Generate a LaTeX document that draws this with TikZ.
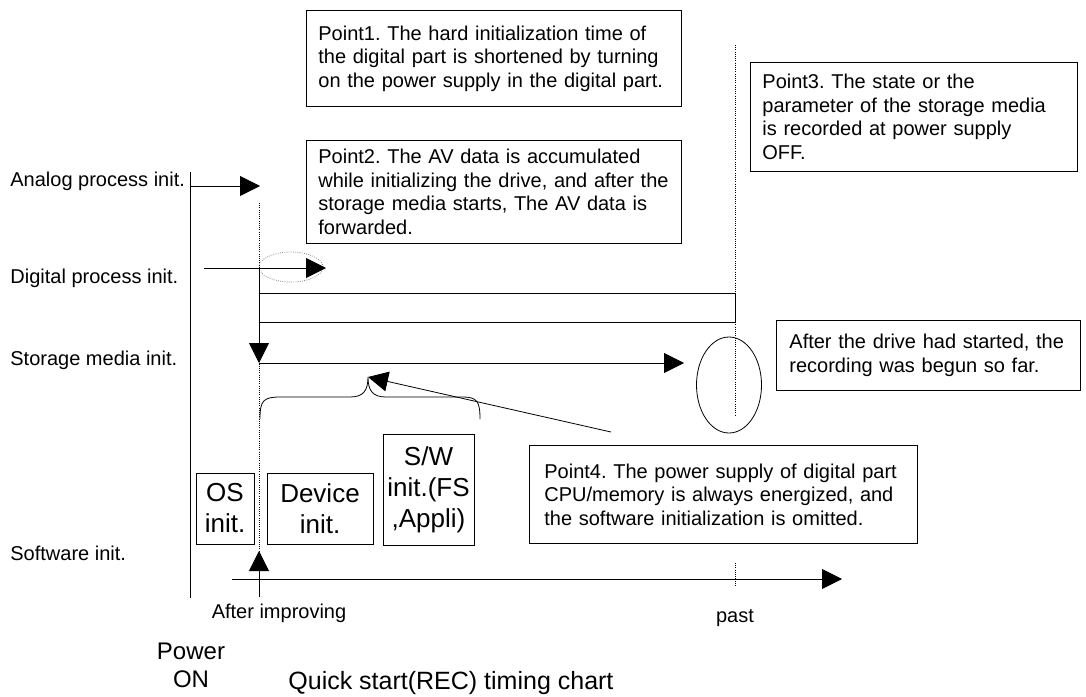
\documentclass[tikz,border=0pt]{standalone}
\usepackage{fontspec}
\setmainfont{Liberation Sans}
\usetikzlibrary{arrows.meta,shapes.geometric}
\frenchspacing
\begin{document}
\begin{tikzpicture}[x=1pt,y=-1pt,line width=0.8pt,
 lb/.style={anchor=base west,inner sep=0pt,font=\fontsize{20}{24}\selectfont},
 txt/.style={anchor=base,inner sep=0pt,font=\fontsize{20}{24}\selectfont},
 nt/.style={draw,anchor=north west,align=left,inner xsep=12pt,inner ysep=0pt,font=\fontsize{20}{23.5}\selectfont},
 sw/.style={draw,align=center,inner sep=0pt,minimum height=71pt,font=\fontsize{26}{31}\selectfont},
 ar/.style={-{Triangle[length=20pt,width=20pt]}},
 dt/.style={dash pattern=on 0.8pt off 1.4pt}]
\useasboundingbox (0,0) rectangle (1086,696);
\node[lb] (la) at (10,186) {Analog process init.};
\node[lb] (ld) at (10,283) {Digital process init.};
\node[lb] (ls) at (10,365) {Storage media init.};
\node[lb] (lw) at (10,560) {Software init.};
\node[nt,text width=351pt,minimum height=96pt] (p1) at (306,10) {Point1. The hard initialization time of\\the digital part is shortened by turning\\on the power supply in the digital part.};
\node[nt,text width=351pt,minimum height=103pt] (p2) at (306,140) {Point2. The AV data is accumulated\\while initializing the drive, and after the\\storage media starts, The AV data is\\forwarded.};
\node[nt,text width=303pt,minimum height=109pt] (p3) at (750,62) {Point3. The state or the\\parameter of the storage media\\is recorded at power supply\\OFF.};
\node[nt,text width=278pt,minimum height=70pt,inner xsep=13pt] (rc) at (776,320) {After the drive had started, the\\recording was begun so far.};
\node[nt,text width=358pt,minimum height=98pt,inner xsep=15pt] (p4) at (529,445) {Point4. The power supply of digital part\\CPU/memory is always energized, and\\the software initialization is omitted.};
\node[sw,minimum width=58pt] (os) at (225,508.5) {OS\\init.};
\node[sw,minimum width=106pt] (dv) at (320,508.5) {Device\\init.};
\node[sw,minimum width=91pt,minimum height=111pt] (swi) at (428.5,489.5) {S/W\\init.(FS\\,Appli)};
\node[draw=gray,dt,ellipse,minimum width=64pt,minimum height=30pt,inner sep=0pt] (eg) at (291,267) {};
\node[draw,ellipse,minimum width=65pt,minimum height=96pt,inner sep=0pt] (er) at (729,385) {};
\coordinate (v0) at (190,172); \coordinate (v1) at (190,598);
\coordinate (a0) at (190,186); \coordinate (a1) at (260,186);
\coordinate (d0) at (204,268); \coordinate (d1) at (326,268);
\coordinate (k0) at (259,203); \coordinate (k1) at (259,268); \coordinate (k2) at (259,363);
\coordinate (k3) at (259,551); \coordinate (k4) at (259,597);
\coordinate (s1) at (684,363);
\coordinate (b0) at (259,293); \coordinate (b1) at (735,322);
\coordinate (q0) at (735,45); \coordinate (q1) at (735,415);
\coordinate (t0) at (232,579); \coordinate (t1) at (842,579);
\coordinate (m0) at (735,563); \coordinate (m1) at (735,587);
\coordinate (c0) at (611,432); \coordinate (c1) at (368,377);
\draw (v0) -- (v1);
\draw[ar] (a0) -- (a1);
\draw[dt] (k0) -- (k3);
\draw[ar] (d0) -- (d1);
\draw[ar] (k1) -- (k2);
\draw (b0) rectangle (b1);
\draw[ar] (k2) -- (s1);
\draw[dt] (q0) -- (q1);
\draw[ar] (t0) -- (t1);
\draw[dt] (m0) -- (m1);
\draw[ar] (k4) -- (k3);
\draw[ar] (c0) -- (c1);
\draw (260,419) .. controls (260,401) and (263,397) .. (280,397) -- (350,397) .. controls (363,397) and (368,391) .. (368,377) .. controls (368,391) and (373,397) .. (386,397) -- (462,397) .. controls (477,397) and (480,401) .. (480,419);
\node[txt] (ai) at (279,618) {After improving};
\node[txt] (ps) at (735,622) {past};
\node[align=center,inner sep=0pt,font=\fontsize{24}{28}\selectfont] (pw) at (191,665) {Power\\ON};
\node[anchor=base west,inner sep=0pt,font=\fontsize{25}{30}\selectfont] (tt) at (288,689) {Quick start(REC) timing chart};
\end{tikzpicture}
\end{document}
